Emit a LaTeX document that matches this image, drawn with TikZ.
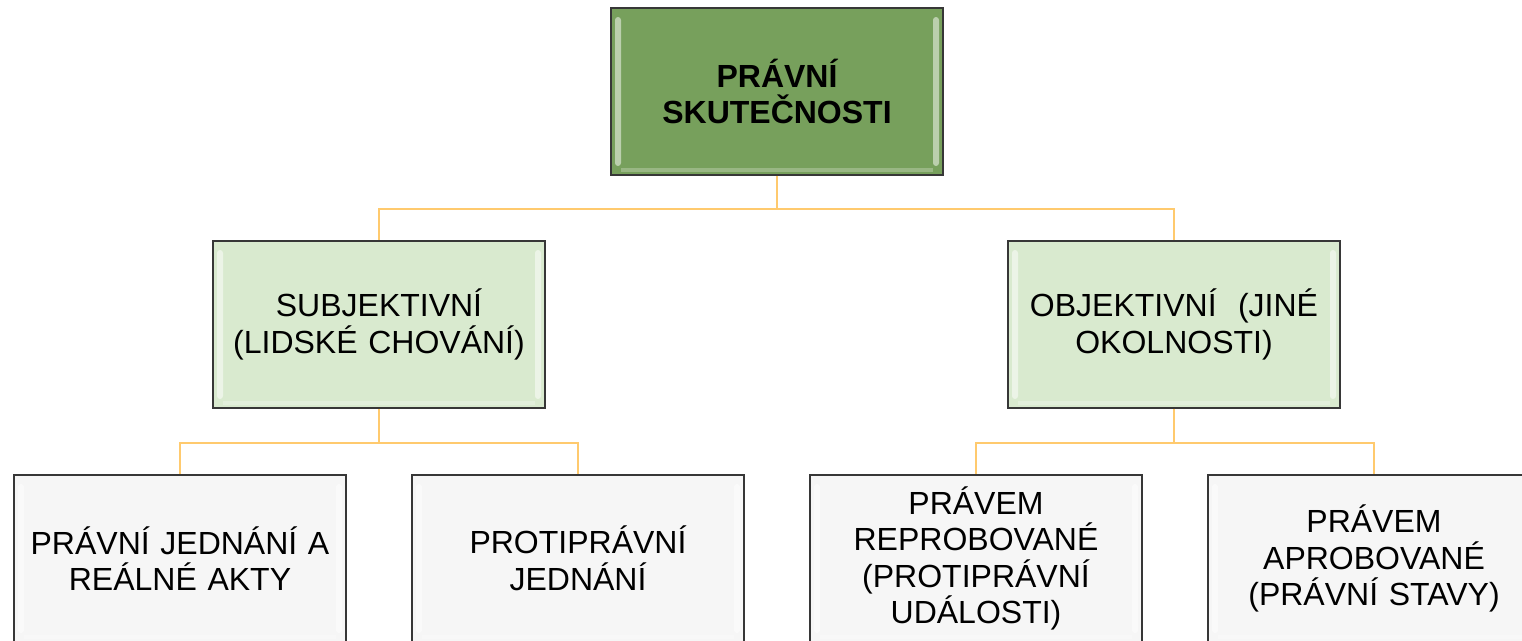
\documentclass[tikz,border=0pt]{standalone}
\usepackage{fontspec}
\setmainfont{Liberation Sans}
\definecolor{topfill}{RGB}{119,160,92}
\definecolor{midfill}{RGB}{217,234,207}
\definecolor{botfill}{RGB}{246,246,246}
\definecolor{edge}{RGB}{55,55,55}
\definecolor{conncol}{RGB}{255,202,110}
\tikzset{
  box/.style={draw=edge, line width=1.6pt, rectangle, minimum width=332pt, minimum height=167pt,
    align=center, text width=322pt, inner sep=0pt,
    font=\fontsize{32}{36.5}\selectfont,
    path picture={
      \fill[white,opacity=0.5,rounded corners=3pt]
        ([xshift=4pt,yshift=-9pt]path picture bounding box.north west) rectangle
        ([xshift=10pt,yshift=9pt]path picture bounding box.south west);
      \fill[white,opacity=0.5,rounded corners=3pt]
        ([xshift=-4pt,yshift=-9pt]path picture bounding box.north east) rectangle
        ([xshift=-10pt,yshift=9pt]path picture bounding box.south east);
      \fill[white,opacity=0.25]
        ([xshift=10pt,yshift=3pt]path picture bounding box.south west) rectangle
        ([xshift=-10pt,yshift=7pt]path picture bounding box.south east);
    }},
  topbox/.style={box, fill=topfill, font=\fontsize{32}{36.5}\selectfont\bfseries},
  midbox/.style={box, fill=midfill},
  botbox/.style={box, fill=botfill},
  conn/.style={draw=conncol, line width=2.6pt}
}
\begin{document}
\begin{tikzpicture}[x=1pt,y=-1pt]
\useasboundingbox (0,0) rectangle (1522,640);
\clip (0,0) rectangle (1522,640);
\node[topbox] (top) at (777,91.5) {PRÁVNÍ\\SKUTEČNOSTI};
\node[midbox] (ml) at (379,324.5) {SUBJEKTIVNÍ\\(LIDSKÉ CHOVÁNÍ)};
\node[midbox] (mr) at (1174,324.5) {OBJEKTIVNÍ\ \ (JINÉ\\OKOLNOSTI)};
\node[botbox] (b1) at (180,558.5) {PRÁVNÍ JEDNÁNÍ A\\REÁLNÉ AKTY};
\node[botbox] (b2) at (578,558.5) {PROTIPRÁVNÍ\\JEDNÁNÍ};
\node[botbox] (b3) at (976,558.5) {PRÁVEM\\REPROBOVANÉ\\(PROTIPRÁVNÍ\\UDÁLOSTI)};
\node[botbox] (b4) at (1374,558.5) {PRÁVEM\\APROBOVANÉ\\(PRÁVNÍ STAVY)};
\draw[conn] (top.south) -- ++(0,33) -| (ml.north);
\draw[conn] (top.south) -- ++(0,33) -| (mr.north);
\draw[conn] (ml.south) -- ++(0,34) -| (b1.north);
\draw[conn] (ml.south) -- ++(0,34) -| (b2.north);
\draw[conn] (mr.south) -- ++(0,34) -| (b3.north);
\draw[conn] (mr.south) -- ++(0,34) -| (b4.north);
\end{tikzpicture}
\end{document}
